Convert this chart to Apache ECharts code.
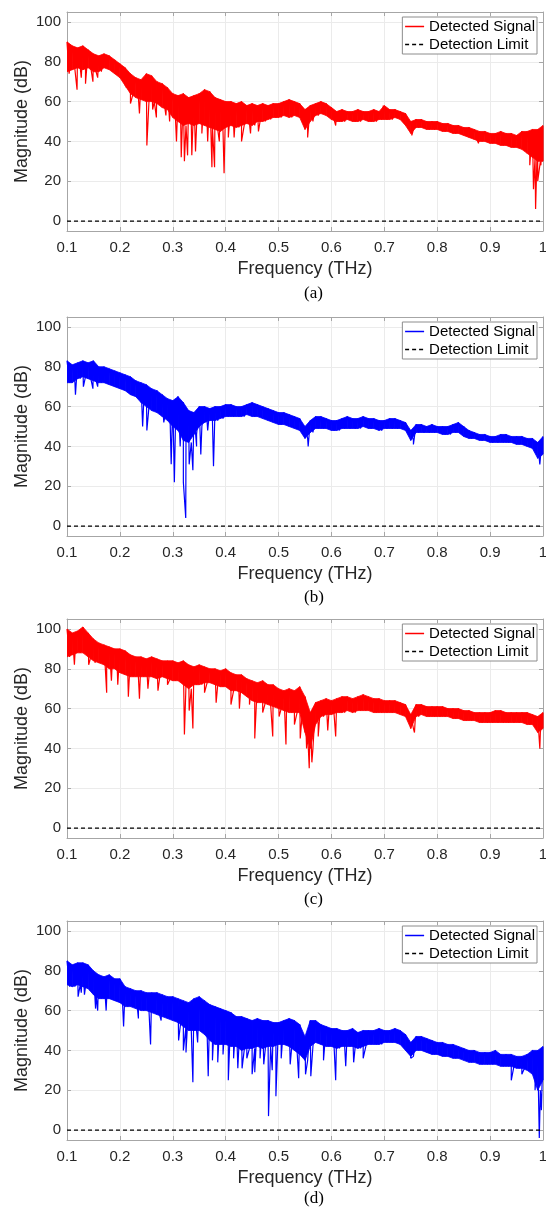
<!DOCTYPE html>
<html>
<head>
<meta charset="utf-8">
<script src="https://cdn.jsdelivr.net/npm/echarts@6/dist/echarts.min.js"></script>
<style>
  html, body { margin: 0; padding: 0; background: #fff; }
  #chart { width: 546px; height: 1208px; }
</style>
</head>
<body>
<div id="chart"></div>
<script>
// frequency bins (THz) for the envelope readings
const freqs = [
  0.10, 0.11, 0.12, 0.13, 0.14, 0.15, 0.16, 0.17, 0.18, 0.19,
  0.20, 0.21, 0.22, 0.23, 0.24, 0.25, 0.26, 0.27, 0.28, 0.29,
  0.30, 0.31, 0.32, 0.33, 0.34, 0.35, 0.36, 0.37, 0.38, 0.39,
  0.40, 0.41, 0.42, 0.43, 0.44, 0.45, 0.46, 0.47, 0.48, 0.49,
  0.50, 0.51, 0.52, 0.53, 0.54, 0.55, 0.56, 0.57, 0.58, 0.59,
  0.60, 0.61, 0.62, 0.63, 0.64, 0.65, 0.66, 0.67, 0.68, 0.69,
  0.70, 0.71, 0.72, 0.73, 0.74, 0.75, 0.76, 0.77, 0.78, 0.79,
  0.80, 0.81, 0.82, 0.83, 0.84, 0.85, 0.86, 0.87, 0.88, 0.89,
  0.90, 0.91, 0.92, 0.93, 0.94, 0.95, 0.96, 0.97, 0.98, 0.99,
  1.00
];

// (a) upper / lower edge of the noisy trace, dB
const hiA = [
  90, 88, 87, 88, 86, 84, 83, 84, 83, 81,
  79, 77, 74, 72, 71, 74, 73, 70, 69, 67,
  64, 63, 64, 62, 63, 64, 66, 65, 62, 61,
  60, 60, 59, 60, 58, 59, 58, 59, 58, 59,
  59, 60, 61, 60, 59, 56, 58, 59, 60, 59,
  57, 55, 56, 55, 55, 56, 55, 55, 56, 55,
  58, 56, 56, 55, 54, 50, 51, 51, 50, 50,
  50, 49, 49, 48, 48, 47, 47, 46, 45, 45,
  44, 44, 45, 44, 44, 43, 45, 45, 46, 46,
  48
];
const loA = [
  75, 76, 77, 76, 77, 75, 75, 77, 76, 74,
  72, 68, 64, 62, 61, 60, 60, 59, 57, 56,
  52, 50, 48, 49, 48, 49, 48, 47, 46, 45,
  47, 48, 47, 48, 49, 48, 50, 50, 51, 52,
  52, 53, 52, 53, 52, 46, 50, 53, 54, 53,
  51, 50, 50, 51, 50, 50, 51, 50, 50, 51,
  51, 51, 52, 51, 48, 44, 47, 47, 46, 46,
  46, 45, 45, 44, 44, 43, 42, 41, 40, 40,
  39, 39, 38, 38, 37, 37, 36, 34, 32, 30,
  30
];
// (a) isolated spikes [THz, dB]
const dipsA = [
  [0.104, 74], [0.119, 66], [0.127, 72], [0.135, 69], [0.149, 70], [0.158, 72],
  [0.212, 67], [0.22, 59], [0.237, 54], [0.251, 38], [0.262, 56], [0.269, 52],
  [0.287, 53], [0.294, 50], [0.307, 40], [0.316, 32], [0.322, 30], [0.328, 33],
  [0.336, 33], [0.343, 35], [0.355, 44], [0.366, 40], [0.374, 27], [0.379, 27],
  [0.388, 40], [0.397, 24], [0.405, 42], [0.416, 42], [0.43, 40], [0.447, 44],
  [0.462, 45], [0.555, 42], [0.608, 48], [0.698, 58], [0.752, 43], [0.878, 39],
  [0.955, 36], [0.975, 28], [0.982, 16], [0.986, 6], [0.99, 20], [0.996, 28]
];

// (b)
const hiB = [
  83, 81, 82, 83, 82, 83, 80, 80, 79, 78,
  77, 76, 75, 73, 72, 71, 69, 68, 66, 64,
  63, 65, 62, 58, 57, 60, 60, 59, 60, 60,
  61, 61, 60, 60, 61, 62, 61, 60, 59, 58,
  57, 57, 56, 55, 54, 50, 53, 55, 55, 54,
  53, 53, 54, 55, 54, 54, 55, 54, 54, 53,
  53, 54, 54, 53, 52, 48, 51, 51, 50, 51,
  50, 50, 50, 51, 52, 50, 48, 47, 46, 46,
  45, 45, 46, 46, 45, 45, 45, 44, 44, 42,
  45
];
const loB = [
  72, 72, 74, 75, 74, 73, 72, 72, 71, 70,
  69, 68, 66, 65, 62, 60, 58, 57, 55, 53,
  50, 48, 43, 42, 46, 50, 52, 53, 53, 54,
  55, 55, 55, 55, 56, 55, 55, 54, 53, 52,
  51, 51, 50, 49, 48, 44, 47, 49, 49, 49,
  48, 48, 49, 49, 49, 49, 50, 49, 49, 48,
  49, 49, 49, 49, 48, 43, 47, 47, 47, 47,
  47, 46, 46, 47, 47, 45, 44, 44, 43, 43,
  42, 42, 42, 42, 42, 41, 41, 40, 39, 34,
  36
];
const dipsB = [
  [0.116, 66], [0.131, 70], [0.149, 69], [0.158, 70], [0.243, 50], [0.251, 48],
  [0.262, 58], [0.283, 52], [0.297, 31], [0.303, 22], [0.314, 40], [0.32, 22],
  [0.3245, 4], [0.331, 31], [0.338, 28], [0.345, 40], [0.353, 36], [0.366, 48],
  [0.377, 30], [0.556, 40], [0.755, 41], [0.994, 31]
];

// (c)
const hiC = [
  100, 98, 99, 101, 98, 95, 93, 92, 91, 90,
  90, 89, 87, 86, 86, 85, 86, 85, 84, 84,
  84, 83, 84, 82, 81, 82, 81, 80, 80, 79,
  80, 78, 77, 77, 75, 74, 73, 74, 72, 72,
  70, 69, 70, 69, 71, 66, 58, 63, 64, 65,
  64, 65, 66, 66, 65, 66, 67, 66, 65, 65,
  64, 64, 64, 63, 62, 57, 62, 62, 61, 61,
  61, 61, 60, 60, 60, 59, 59, 58, 58, 58,
  58, 59, 59, 58, 58, 58, 58, 58, 57, 56,
  58
];
const loC = [
  86, 87, 88, 88, 86, 84, 83, 82, 80, 80,
  78, 77, 76, 76, 76, 76, 76, 75, 76, 75,
  74, 74, 72, 70, 72, 72, 73, 73, 72, 71,
  71, 69, 69, 68, 66, 64, 63, 63, 62, 61,
  60, 59, 58, 58, 58, 48, 40, 52, 56, 57,
  57, 58, 58, 59, 58, 59, 59, 59, 58, 58,
  58, 58, 58, 57, 56, 50, 56, 57, 56, 56,
  56, 56, 56, 55, 55, 54, 54, 54, 53, 53,
  53, 53, 53, 53, 53, 53, 53, 52, 52, 48,
  50
];
const dipsC = [
  [0.114, 82], [0.141, 82], [0.153, 83], [0.175, 68], [0.184, 74], [0.196, 72],
  [0.216, 66], [0.237, 65], [0.253, 70], [0.272, 69], [0.29, 72], [0.322, 47],
  [0.331, 59], [0.338, 50], [0.36, 68], [0.382, 63], [0.41, 62], [0.426, 60],
  [0.445, 62], [0.455, 45], [0.47, 58], [0.489, 46], [0.501, 56], [0.514, 42],
  [0.53, 52], [0.541, 45], [0.553, 40], [0.558, 30], [0.563, 33], [0.575, 46],
  [0.593, 49], [0.608, 46], [0.757, 48], [0.994, 40]
];

// (d)
const hiD = [
  85, 83, 84, 84, 83, 80, 78, 77, 78, 76,
  76, 72, 71, 70, 70, 69, 69, 69, 68, 67,
  67, 66, 65, 64, 66, 67, 65, 63, 62, 61,
  60, 59, 57, 57, 56, 55, 56, 55, 55, 54,
  54, 55, 56, 55, 53, 47, 55, 55, 53, 52,
  51, 51, 50, 50, 51, 49, 50, 50, 50, 51,
  50, 50, 51, 50, 48, 44, 47, 47, 46, 45,
  44, 44, 43, 43, 42, 41, 40, 40, 39, 39,
  39, 40, 38, 38, 38, 37, 37, 38, 40, 40,
  42
];
const loD = [
  73, 72, 73, 72, 71, 68, 66, 66, 66, 65,
  64, 62, 62, 61, 60, 60, 59, 58, 57, 56,
  55, 54, 52, 50, 50, 50, 48, 45, 43, 43,
  43, 42, 42, 40, 41, 41, 42, 41, 42, 42,
  43, 43, 42, 40, 38, 35, 42, 44, 43, 42,
  42, 41, 42, 42, 42, 41, 42, 43, 43, 43,
  44, 44, 44, 43, 40, 37, 40, 40, 39, 38,
  38, 37, 37, 36, 36, 35, 34, 34, 33, 33,
  33, 33, 32, 32, 32, 31, 31, 30, 28, 20,
  25
];
const dipsD = [
  [0.105, 72], [0.121, 67], [0.127, 69], [0.133, 68], [0.144, 70], [0.154, 61],
  [0.158, 60], [0.174, 60], [0.207, 52], [0.235, 56], [0.258, 43], [0.278, 55],
  [0.311, 45], [0.32, 40], [0.325, 39], [0.338, 24], [0.347, 44], [0.367, 27],
  [0.375, 35], [0.385, 34], [0.395, 38], [0.405, 25], [0.415, 36], [0.423, 31],
  [0.431, 31], [0.44, 36], [0.45, 28], [0.455, 29], [0.465, 36], [0.472, 33],
  [0.481, 7], [0.488, 30], [0.495, 17], [0.505, 36], [0.522, 33], [0.538, 26],
  [0.551, 28], [0.561, 27], [0.585, 35], [0.608, 25], [0.627, 32], [0.642, 34],
  [0.66, 36], [0.75, 36], [0.94, 25], [0.96, 28], [0.985, 20], [0.993, -4],
  [0.997, 10]
];

const detectionLimit = 0; // dB
const freqRange = [0.1, 1.0];
const captions = ['(a)', '(b)', '(c)', '(d)'];

const panels = [
  { id: 'a', hi: hiA, lo: loA, dips: dipsA, color: '#ff0000' },
  { id: 'b', hi: hiB, lo: loB, dips: dipsB, color: '#0000ff' },
  { id: 'c', hi: hiC, lo: loC, dips: dipsC, color: '#ff0000' },
  { id: 'd', hi: hiD, lo: loD, dips: dipsD, color: '#0000ff' }
];

// layout
const gridTops = [12, 317, 619, 921];
const gridH = 219;
const captionYs = [294, 598, 900, 1199];
const font = "'Liberation Sans', Arial, sans-serif";
const axisGray = '#a6a6a6';
const textGray = '#262626';

// trace: hi/lo alternate per bin, spikes merged in by frequency
const tracePoints = (p) => {
  let pts = [];
  freqs.forEach((f, i) => {
    pts.push([f, p.hi[i]]);
    let fl = i < freqs.length - 1 ? f + 0.005 : f;
    pts.push([fl, p.lo[i]]);
  });
  pts = pts.concat(p.dips);
  pts.sort((u, v) => u[0] - v[0]);
  return pts;
};

// band between the hi and lo edges, one quad per bin
const bandItems = (p) => {
  let out = [];
  for (let i = 0; i < freqs.length - 1; i++) {
    out.push([freqs[i], p.hi[i], freqs[i + 1], p.hi[i + 1], p.lo[i + 1], p.lo[i]]);
  }
  return out;
};

let grids = [], xAxes = [], yAxes = [], series = [], legends = [], graphics = [];

panels.forEach((p, k) => {
  grids.push({
    left: 67, right: 3, top: gridTops[k], height: gridH,
    containLabel: false, outerBoundsMode: 'none'
  });

  // bottom + top x axes
  xAxes.push({
    gridIndex: k, type: 'value', position: 'bottom',
    min: 0.1, max: 1, interval: 0.1,
    name: 'Frequency (THz)', nameLocation: 'middle', nameGap: 29,
    nameTextStyle: { fontFamily: font, fontSize: 18, color: textGray },
    axisLine: { show: true, onZero: false, lineStyle: { color: axisGray, width: 1 } },
    axisTick: { show: true, inside: true, length: 4, lineStyle: { color: axisGray } },
    axisLabel: { fontFamily: font, fontSize: 15, color: textGray, margin: 9 },
    splitLine: { show: true, lineStyle: { color: '#ebebeb', width: 1 } }
  });
  xAxes.push({
    gridIndex: k, type: 'value', position: 'top',
    min: 0.1, max: 1, interval: 0.1,
    axisLine: { show: true, onZero: false, lineStyle: { color: axisGray, width: 1 } },
    axisTick: { show: true, inside: true, length: 4, lineStyle: { color: axisGray } },
    axisLabel: { show: false },
    splitLine: { show: false }
  });

  // left + right y axes (-5..105, ticks every 20)
  yAxes.push({
    gridIndex: k, type: 'value', position: 'left',
    min: -5, max: 105, splitNumber: 5,
    name: 'Magnitude (dB)', nameLocation: 'middle', nameGap: 36,
    nameMoveOverlap: false,
    nameTextStyle: { fontFamily: font, fontSize: 18, color: textGray },
    axisLine: { show: true, onZero: false, lineStyle: { color: axisGray, width: 1 } },
    axisTick: { show: true, inside: true, length: 4, lineStyle: { color: axisGray } },
    axisLabel: { fontFamily: font, fontSize: 15, color: textGray, margin: 6,
      showMinLabel: false, showMaxLabel: false },
    splitLine: { show: true, lineStyle: { color: '#ebebeb', width: 1 } }
  });
  yAxes.push({
    gridIndex: k, type: 'value', position: 'right',
    min: -5, max: 105, splitNumber: 5,
    axisLine: { show: true, onZero: false, lineStyle: { color: axisGray, width: 1 } },
    axisTick: { show: true, inside: true, length: 4, lineStyle: { color: axisGray } },
    axisLabel: { show: false },
    splitLine: { show: false }
  });

  let xi = 2 * k, yi = 2 * k;

  series.push({
    type: 'custom', name: p.id + '-band', xAxisIndex: xi, yAxisIndex: yi,
    silent: true, z: 2, clip: true,
    data: bandItems(p),
    renderItem: (params, api) => {
      let a = api.coord([api.value(0), api.value(1)]);
      let b = api.coord([api.value(2), api.value(3)]);
      let c = api.coord([api.value(2), api.value(4)]);
      let d = api.coord([api.value(0), api.value(5)]);
      return {
        type: 'polygon',
        shape: { points: [a, b, c, d] },
        style: { fill: p.color, stroke: p.color, lineWidth: 0.8 }
      };
    }
  });
  series.push({
    type: 'line', name: p.id + '-sig', xAxisIndex: xi, yAxisIndex: yi,
    data: tracePoints(p), symbol: 'none', showSymbol: false, z: 3,
    lineStyle: { color: p.color, width: 1.2 }, itemStyle: { color: p.color }
  });
  series.push({
    type: 'line', name: p.id + '-lim', xAxisIndex: xi, yAxisIndex: yi,
    data: [[freqRange[0], detectionLimit], [freqRange[1], detectionLimit]],
    symbol: 'none', showSymbol: false, z: 4,
    lineStyle: { color: '#000', width: 1.3, type: [4, 3] }, itemStyle: { color: '#000' }
  });

  legends.push({
    orient: 'vertical', right: 9, top: gridTops[k] + 5,
    data: [p.id + '-sig', p.id + '-lim'],
    formatter: (n) => n.endsWith('sig') ? 'Detected Signal' : 'Detection Limit',
    backgroundColor: '#fff', borderColor: '#8c8c8c', borderWidth: 1,
    padding: [2, 2, 2, 2], itemGap: 3, itemWidth: 19, itemHeight: 14,
    selectedMode: false,
    itemStyle: { opacity: 0 },
    lineStyle: { width: 1.5 },
    textStyle: { fontFamily: font, fontSize: 15, color: '#000' }
  });

  graphics.push({
    type: 'text', left: 304, top: captionYs[k] - 9,
    style: { text: captions[k], font: "17px 'Liberation Serif', 'Times New Roman', serif", fill: '#000' }
  });
});

let chart = echarts.init(document.getElementById('chart'), null, { renderer: 'canvas' });
chart.setOption({
  animation: false,
  backgroundColor: '#fff',
  grid: grids,
  xAxis: xAxes,
  yAxis: yAxes,
  legend: legends,
  series: series,
  graphic: graphics
});
</script>
</body>
</html>
